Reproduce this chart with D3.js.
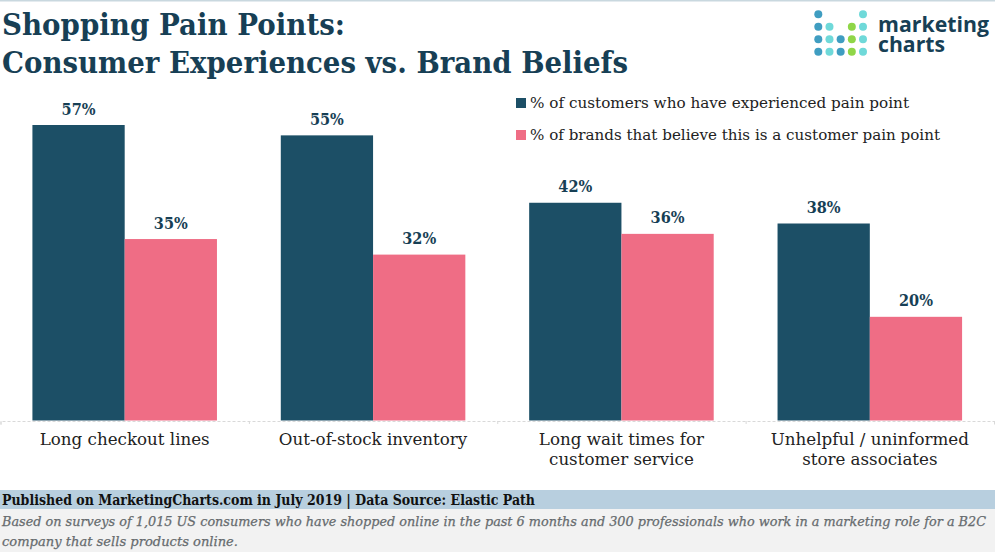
<!DOCTYPE html>
<html>
<head>
<meta charset="utf-8">
<script src="https://cdnjs.cloudflare.com/ajax/libs/d3/7.8.5/d3.min.js"></script>
<style>
  html, body { margin: 0; padding: 0; background: #fff; }
  svg { display: block; }
  text { font-family: "DejaVu Serif", serif; }
</style>
</head>
<body>
<svg width="995" height="552"></svg>
<script>
const categories = [
  ["Long checkout lines"],
  ["Out-of-stock inventory"],
  ["Long wait times for", "customer service"],
  ["Unhelpful / uninformed", "store associates"]
];
const experienced = [57, 55, 42, 38];
const believed = [35, 32, 36, 20];
const seriesNames = [
  "% of customers who have experienced pain point",
  "% of brands that believe this is a customer pain point"
];
const titleLines = ["Shopping Pain Points:", "Consumer Experiences vs. Brand Beliefs"];
const sourceLine = "Published on MarketingCharts.com in July 2019 | Data Source: Elastic Path";
const noteLines = [
  "Based on surveys of 1,015 US consumers who have shopped online in the past 6 months and 300 professionals who work in a marketing role for a B2C",
  "company that sells products online."
];

const colors = ["#1c4f66", "#ef6d85"];
const svg = d3.select("svg");

// top rule
svg.append("rect").attr("width", 995).attr("height", 1.5).attr("fill", "#c9d8df");

// title
svg.selectAll("text.title")
  .data(titleLines)
  .enter()
  .append("text")
  .attr("class", "title")
  .attr("x", 2)
  .attr("y", (d, i) => 35 + i * 38)
  .attr("font-size", 29)
  .attr("font-weight", "bold")
  .attr("fill", "#173f55")
  .attr("textLength", (d, i) => [343, 626][i])
  .attr("lengthAdjust", "spacingAndGlyphs")
  .text(d => d);

// bars
const xGroup = d3.scaleBand()
  .domain(d3.range(categories.length))
  .range([0.5, 994])
  .paddingInner(0.257)
  .paddingOuter(0.1285);
const xBar = d3.scaleBand().domain([0, 1]).range([0, xGroup.bandwidth()]);
const y = d3.scaleLinear().domain([0, 57]).range([420.5, 125]);

const groups = svg.selectAll("g.group")
  .data(categories.map((c, i) => [experienced[i], believed[i]]))
  .enter()
  .append("g")
  .attr("class", "group")
  .attr("transform", (d, i) => `translate(${xGroup(i)},0)`);

groups.selectAll("rect")
  .data(d => d)
  .enter()
  .append("rect")
  .attr("x", (d, i) => xBar(i))
  .attr("y", d => y(d))
  .attr("width", xBar.bandwidth())
  .attr("height", d => y(0) - y(d))
  .attr("fill", (d, i) => colors[i]);

groups.selectAll("text")
  .data(d => d)
  .enter()
  .append("text")
  .attr("x", (d, i) => xBar(i) + xBar.bandwidth() / 2)
  .attr("y", d => y(d) - 10.5)
  .attr("text-anchor", "middle")
  .attr("font-size", 17)
  .attr("font-weight", "bold")
  .attr("fill", "#173f55")
  .attr("textLength", 34)
  .attr("lengthAdjust", "spacingAndGlyphs")
  .text(d => d + "%");

// axis
const xTicks = d3.scaleLinear().domain([0, categories.length]).range([0.5, 994]);
const axisG = svg.append("g").attr("transform", "translate(0,421)");
axisG.call(d3.axisBottom(xTicks).ticks(categories.length).tickSize(4).tickFormat(""));
axisG.selectAll("path, line")
  .attr("stroke", "#d9d9d9")
  .attr("stroke-dasharray", "3,2");

// category labels
const labels = svg.selectAll("text.cat")
  .data(categories)
  .enter()
  .append("text")
  .attr("class", "cat")
  .attr("text-anchor", "middle")
  .attr("font-size", 16.7)
  .attr("fill", "#222");
labels.selectAll("tspan")
  .data((d, i) => d.map(t => ({ t, i })))
  .enter()
  .append("tspan")
  .attr("x", d => xGroup(d.i) + xGroup.bandwidth() / 2)
  .attr("y", (d, j) => 445 + j * 20)
  .text(d => d.t);

// legend
const legend = svg.selectAll("g.legend")
  .data(seriesNames)
  .enter()
  .append("g")
  .attr("class", "legend")
  .attr("transform", (d, i) => `translate(516,${98 + i * 32})`);
legend.append("rect")
  .attr("width", 10)
  .attr("height", 10)
  .attr("fill", (d, i) => colors[i]);
legend.append("text")
  .attr("x", 14)
  .attr("y", 10)
  .attr("font-size", 14)
  .attr("fill", "#222")
  .attr("textLength", (d, i) => [379, 410][i])
  .attr("lengthAdjust", "spacingAndGlyphs")
  .text(d => d);

// logo
const dotColumns = [
  { rows: [0, 1, 2, 3], color: "#3f9dc1" },
  { rows: [1, 2, 3], color: "#6fd9d9" },
  { rows: [2, 3], color: "#3f9dc1" },
  { rows: [1, 2, 3], color: "#8fd648" },
  { rows: [0, 1, 2, 3], color: "#6fd9d9" }
];
const logoX = d3.scaleLinear().domain([0, 4]).range([818.3, 863]);
const logoY = d3.scaleLinear().domain([0, 3]).range([14.3, 51.7]);
dotColumns.forEach((col, i) => {
  svg.selectAll(`circle.col${i}`)
    .data(col.rows)
    .enter()
    .append("circle")
    .attr("class", `col${i}`)
    .attr("cx", logoX(i))
    .attr("cy", d => logoY(d))
    .attr("r", 4)
    .attr("fill", col.color);
});
svg.selectAll("text.logo")
  .data(["marketing", "charts"])
  .enter()
  .append("text")
  .attr("class", "logo")
  .attr("x", 878)
  .attr("y", (d, i) => 32 + i * 20)
  .attr("font-size", 21)
  .attr("font-weight", "bold")
  .attr("fill", "#173f55")
  .style("font-family", "'Open Sans', sans-serif")
  .attr("textLength", (d, i) => [111, 67][i])
  .attr("lengthAdjust", "spacingAndGlyphs")
  .text(d => d);

// footer
svg.append("rect").attr("y", 490).attr("width", 995).attr("height", 19).attr("fill", "#b8cfdf");
svg.append("rect").attr("y", 509).attr("width", 995).attr("height", 43).attr("fill", "#f2f2f2");
svg.append("text")
  .attr("x", 2)
  .attr("y", 505)
  .attr("font-size", 14)
  .attr("font-weight", "bold")
  .attr("fill", "#111")
  .attr("textLength", 533)
  .attr("lengthAdjust", "spacingAndGlyphs")
  .text(sourceLine);
svg.selectAll("text.note")
  .data(noteLines)
  .enter()
  .append("text")
  .attr("class", "note")
  .attr("x", 2)
  .attr("y", (d, i) => 526 + i * 20)
  .attr("font-size", 12.5)
  .attr("font-style", "italic")
  .attr("fill", "#666b6e")
  .attr("stroke", "#666b6e")
  .attr("stroke-width", 0.25)
  .attr("textLength", (d, i) => [984, 236][i])
  .attr("lengthAdjust", "spacingAndGlyphs")
  .text(d => d);
</script>
</body>
</html>
